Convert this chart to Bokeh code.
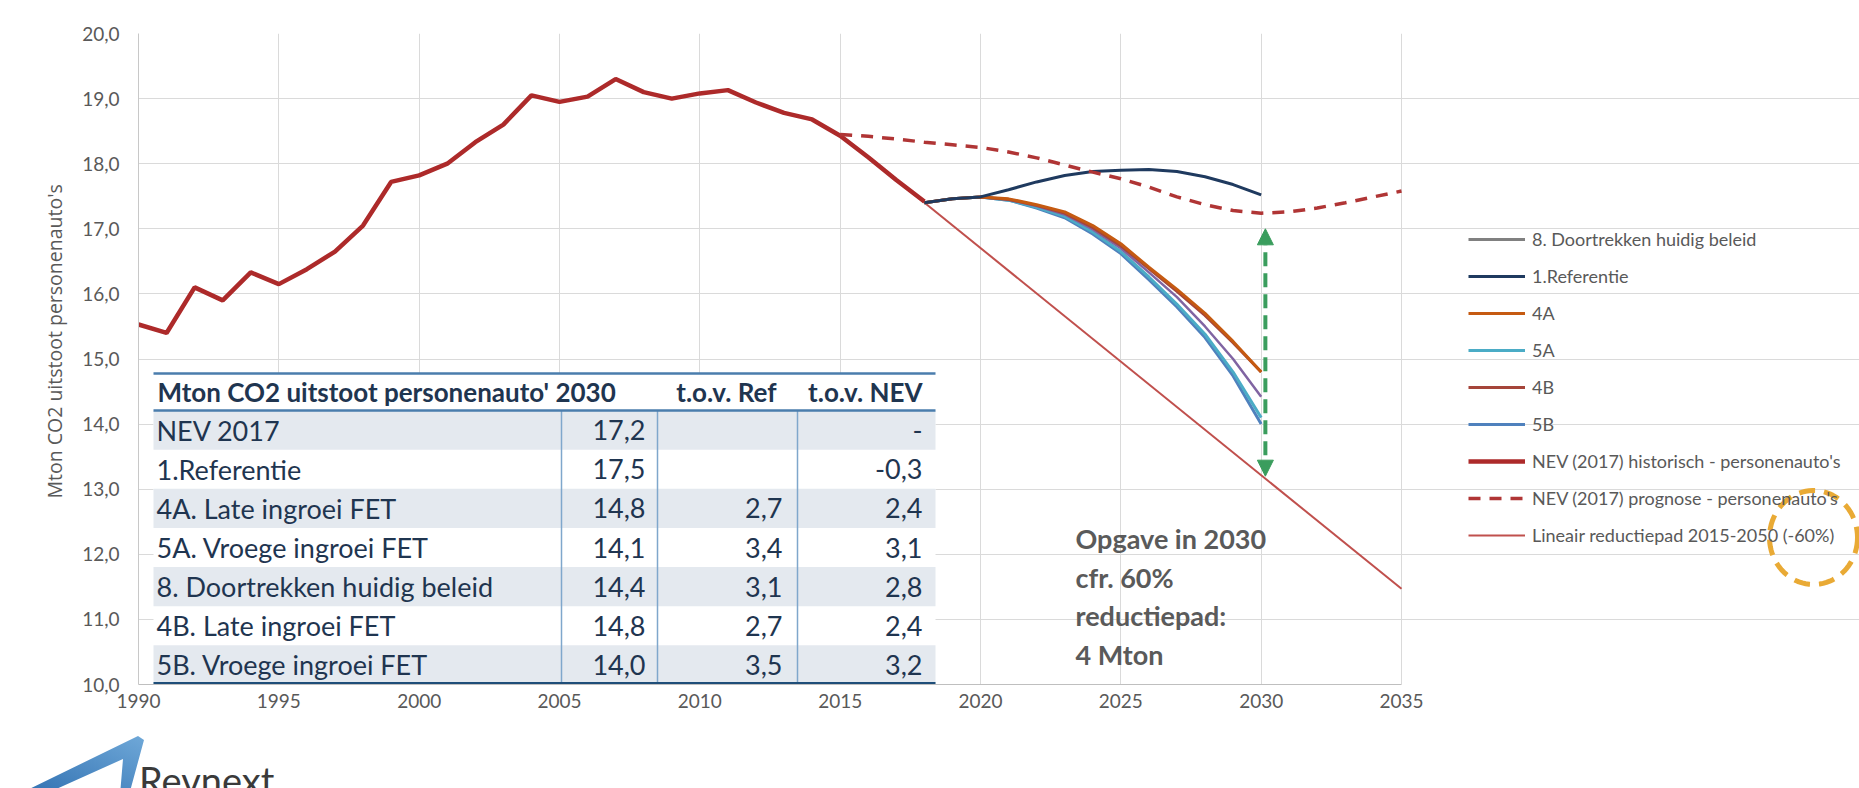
import numpy as np
from bokeh.plotting import figure
from bokeh.layouts import column
from bokeh.models import (Range1d, FixedTicker, Legend, LegendItem, Arrow, NormalHead,
                          PolyAnnotation, Div, Title)
from bokeh.core.properties import value
from bokeh.embed import file_html
from bokeh.resources import INLINE

# ---------------- data ----------------
hist_years = list(range(1990, 2019))
hist_vals = [15.53, 15.40, 16.10, 15.90, 16.33, 16.15, 16.38, 16.65, 17.05, 17.72,
             17.82, 18.00, 18.33, 18.60, 19.05, 18.95, 19.03, 19.30, 19.10, 19.00,
             19.08, 19.13, 18.94, 18.78, 18.68, 18.43, 18.10, 17.75, 17.42]

prog_years = list(range(2015, 2036))
prog_vals = [18.45, 18.42, 18.38, 18.33, 18.29, 18.25, 18.18, 18.09, 17.98, 17.87,
             17.77, 17.64, 17.49, 17.37, 17.28, 17.24, 17.26, 17.32, 17.40, 17.49, 17.58]

lin_years = [2015, 2035]
lin_vals = [18.45, 11.47]

scen_years = list(range(2018, 2031))
ref_vals = [17.40, 17.46, 17.49, 17.60, 17.72, 17.82, 17.88, 17.90, 17.91, 17.88, 17.80, 17.68, 17.52]
s4a_vals = [17.40, 17.46, 17.49, 17.46, 17.37, 17.26, 17.05, 16.77, 16.41, 16.07, 15.70, 15.27, 14.80]
s4b_vals = [17.40, 17.46, 17.49, 17.45, 17.36, 17.24, 17.02, 16.74, 16.39, 16.04, 15.67, 15.25, 14.80]
s8_vals = [17.40, 17.46, 17.49, 17.45, 17.35, 17.22, 16.99, 16.70, 16.33, 15.95, 15.50, 15.00, 14.42]
s5a_vals = [17.40, 17.46, 17.49, 17.44, 17.33, 17.19, 16.95, 16.65, 16.26, 15.84, 15.38, 14.80, 14.10]
s5b_vals = [17.40, 17.46, 17.49, 17.44, 17.32, 17.17, 16.92, 16.62, 16.22, 15.80, 15.33, 14.74, 14.00]

x_ticks = [1990, 1995, 2000, 2005, 2010, 2015, 2020, 2025, 2030, 2035]
y_ticks = [10, 11, 12, 13, 14, 15, 16, 17, 18, 19, 20]
y_tick_labels = ["10,0", "11,0", "12,0", "13,0", "14,0", "15,0", "16,0", "17,0", "18,0", "19,0", "20,0"]

table_header = ["Mton CO2 uitstoot personenauto' 2030", "t.o.v. Ref", "t.o.v. NEV"]
table_rows = ["NEV 2017", "1.Referentie", "4A. Late ingroei FET", "5A. Vroege ingroei FET",
              "8. Doortrekken huidig beleid", "4B. Late ingroei FET", "5B. Vroege ingroei FET"]
table_2030 = ["17,2", "17,5", "14,8", "14,1", "14,4", "14,8", "14,0"]
table_ref = ["", "", "2,7", "3,4", "3,1", "2,7", "3,5"]
table_nev = ["-", "-0,3", "2,4", "3,1", "2,8", "2,4", "3,2"]

note_lines = ["Opgave in 2030", "cfr. 60%", "reductiepad:", "4 Mton"]
arrow_from, arrow_to = 13.2, 17.0

# ---------------- layout helpers (page pixels) ----------------
W, H_FIG, H_DIV = 1859, 728, 60
PX0, PX2035, PY0, PY1 = 138, 1401, 33, 684      # frame left, x of 2035, frame top, frame bottom
XPP = (PX2035 - PX0) / 45.0                       # pixels per year
YPP = (PY1 - PY0) / 10.0                          # pixels per Mton


def px_x(px):
    return 1990 + (px - PX0) / XPP


def px_y(py):
    return 10 + (PY1 - py) / YPP


GRAY = "#595959"
FONT = "Lato"

p = figure(width=W, height=H_FIG, x_range=Range1d(1990, px_x(W)), y_range=Range1d(10, 20),
           output_backend="svg", toolbar_location=None,
           min_border_left=PX0, min_border_right=0, min_border_top=PY0, min_border_bottom=H_FIG - PY1)
p.outline_line_color = None
p.background_fill_color = "white"
p.border_fill_color = "white"

p.xaxis.ticker = FixedTicker(ticks=x_ticks)
p.yaxis.ticker = FixedTicker(ticks=y_ticks)
p.yaxis.major_label_overrides = {t: l for t, l in zip(y_ticks, y_tick_labels)}
for ax in (p.xaxis[0], p.yaxis[0]):
    ax.major_tick_line_color = None
    ax.minor_tick_line_color = None
    ax.major_tick_out = 0
    ax.major_tick_in = 0
    ax.minor_tick_out = 0
    ax.major_label_text_font = FONT
    ax.major_label_text_font_size = "19px"
    ax.major_label_text_color = GRAY
p.xaxis.bounds = (1990, 2035)
p.xaxis.axis_line_color = "#BFBFBF"
p.yaxis.axis_line_color = "#C8C8C8"
p.xaxis.major_label_standoff = 9
p.yaxis.major_label_standoff = 19
p.xgrid.ticker = FixedTicker(ticks=x_ticks)
p.ygrid.ticker = FixedTicker(ticks=y_ticks)
p.ygrid.bounds = (1990, 2035)
p.xgrid.grid_line_color = "#DADADA"
p.ygrid.grid_line_color = "#DADADA"

# y-axis title (a left-panel title, starting higher above the frame bottom like in the original)
p.add_layout(Title(text="Mton CO2 uitstoot personenauto's", align="left", offset=186, standoff=24,
                   text_font="Open Sans", text_font_size="19.5px", text_font_style="normal",
                   text_color=GRAY), "left")

# ---------------- lines ----------------
r_lin = p.line(lin_years, lin_vals, line_color="#C0504D", line_width=2)
r5b = p.line(scen_years, s5b_vals, line_color="#4F81BD", line_width=3)
r5a = p.line(scen_years, s5a_vals, line_color="#4BACC6", line_width=3)
r8 = p.line(scen_years, s8_vals, line_color="#8064A2", line_width=2.5)
r4b = p.line(scen_years, s4b_vals, line_color="#A5453A", line_width=3)
r4a = p.line(scen_years, s4a_vals, line_color="#C55A11", line_width=3)
r_ref = p.line(scen_years, ref_vals, line_color="#1F3A5F", line_width=3)
r_hist = p.line(hist_years, hist_vals, line_color="#AD2A2A", line_width=4.5)
r_prog = p.line(prog_years, prog_vals, line_color="#B03535", line_width=3.5, line_dash="12 9")
# legend-only swatch for scenario 8 (grey in the original legend)
r8_leg = p.line([np.nan], [np.nan], line_color="#808080", line_width=3)

# ---------------- arrow ----------------
green = "#3A9D5D"
p.add_layout(Arrow(x_start=2030.15, y_start=arrow_from, x_end=2030.15, y_end=arrow_to,
                   line_color=green, line_width=4, line_dash="14 7",
                   start=NormalHead(size=16, fill_color=green, line_color=green),
                   end=NormalHead(size=16, fill_color=green, line_color=green)))

# ---------------- note text ----------------
note_y0 = px_y(538)
note_dy = px_y(538) - px_y(576.5)
p.text(x=[px_x(1075)] * len(note_lines), y=[note_y0 - i * note_dy for i in range(len(note_lines))],
       text=note_lines, text_font=value(FONT), text_font_size=value("27px"),
       text_font_style="bold", text_color="#5A5A5A", text_align="left", text_baseline="alphabetic")

# ---------------- table ----------------
T_X0, T_X1 = px_x(153), px_x(935)
T_TOP = px_y(373)
H_BOT = px_y(410)
ROW_H = (H_BOT - 10.0) / len(table_rows)
row_y = [H_BOT - ROW_H * (i + 0.5) for i in range(len(table_rows))]
NAVY_T = "#1F3550"

p.quad(left=[T_X0], right=[T_X1], bottom=[10.0], top=[T_TOP], fill_color="white", line_color=None)
shade_idx = [i for i in range(len(table_rows)) if i % 2 == 0]
p.quad(left=[T_X0] * len(shade_idx), right=[T_X1] * len(shade_idx),
       bottom=[H_BOT - ROW_H * (i + 1) for i in shade_idx], top=[H_BOT - ROW_H * i for i in shade_idx],
       fill_color="#E4E9EF", line_color=None)
divs = [px_x(561), px_x(657), px_x(797)]
p.segment(x0=divs, y0=[10.0] * 3, x1=divs, y1=[H_BOT] * 3, line_color="#7FA7CC", line_width=1.5)
p.segment(x0=[T_X0, T_X0], y0=[T_TOP, H_BOT], x1=[T_X1, T_X1], y1=[T_TOP, H_BOT],
          line_color="#4A7DAD", line_width=2.5)
p.segment(x0=[T_X0], y0=[px_y(683)], x1=[T_X1], y1=[px_y(683)], line_color="#1F4E79", line_width=3)

hdr_y = (T_TOP + H_BOT) / 2
hdr = dict(text_font=value(FONT), text_font_size=value("26px"), text_font_style="bold",
           text_color=NAVY_T, text_baseline="middle")
p.text(x=[px_x(157)], y=[hdr_y], text=[table_header[0]], text_align="left", **hdr)
p.text(x=[px_x(776), px_x(922)], y=[hdr_y, hdr_y], text=table_header[1:], text_align="right", **hdr)

body = dict(text_font=value(FONT), text_font_size=value("27px"), text_color=NAVY_T, text_baseline="middle")
p.text(x=[px_x(156)] * 7, y=row_y, text=table_rows, text_align="left", **body)
p.text(x=[px_x(645)] * 7, y=row_y, text=table_2030, text_align="right", **body)
p.text(x=[px_x(782)] * 7, y=row_y, text=table_ref, text_align="right", **body)
p.text(x=[px_x(922)] * 7, y=row_y, text=table_nev, text_align="right", **body)

# ---------------- legend ----------------
legend = Legend(items=[
    LegendItem(label="8. Doortrekken huidig beleid", renderers=[r8_leg]),
    LegendItem(label="1.Referentie", renderers=[r_ref]),
    LegendItem(label="4A", renderers=[r4a]),
    LegendItem(label="5A", renderers=[r5a]),
    LegendItem(label="4B", renderers=[r4b]),
    LegendItem(label="5B", renderers=[r5b]),
    LegendItem(label="NEV (2017) historisch - personenauto's", renderers=[r_hist]),
    LegendItem(label="NEV (2017) prognose - personenauto's", renderers=[r_prog]),
    LegendItem(label="Lineair reductiepad 2015-2050 (-60%)", renderers=[r_lin]),
], location=(1468 - PX0, PY1 - 546))
legend.padding = 0
legend.margin = 0
legend.spacing = 15
legend.label_height = 20
legend.glyph_height = 20
legend.glyph_width = 57
legend.label_standoff = 7
legend.background_fill_alpha = 0
legend.border_line_alpha = 0
legend.label_text_font = FONT
legend.label_text_font_size = "18px"
legend.label_text_color = GRAY
p.add_layout(legend)

# ---------------- highlight circle ----------------
t = np.linspace(0, 2 * np.pi, 80)
p.add_layout(PolyAnnotation(xs=list(px_x(1813 + 44 * np.cos(t))), ys=list(px_y(537 + 47 * np.sin(t))),
                            fill_alpha=0, line_color="#E9AA35", line_alpha=1.0, line_width=5,
                            line_dash="16 9"))

# ---------------- logo strip ----------------
logo_pts = [(12, 62), (133, 3), (139, 7), (124, 62), (115, 62), (118, 26), (38, 62)]
logo_svg = " ".join(f"{a},{b}" for a, b in logo_pts)
logo = Div(width=420, height=H_DIV, text=(
    f'<div style="position:relative;width:420px;height:{H_DIV}px;overflow:hidden;">'
    f'<svg style="position:absolute;left:0;top:0" width="160" height="{H_DIV}">'
    f'<defs><linearGradient id="g" x1="0" y1="1" x2="1" y2="0">'
    f'<stop offset="0" stop-color="#2F6FB0"/><stop offset="1" stop-color="#6FA8D8"/></linearGradient></defs>'
    f'<polygon points="{logo_svg}" fill="url(#g)"/></svg>'
    f'<span style="position:absolute;left:134px;top:28px;font-family:Lato;font-size:38px;'
    f'line-height:38px;color:#3A3A3A;">Revnext</span></div>'))

layout = column(p, logo, spacing=0)
open("out.html", "w").write(file_html(layout, INLINE))
